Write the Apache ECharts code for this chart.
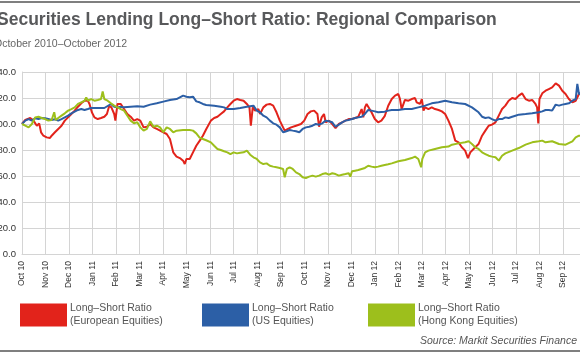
<!DOCTYPE html>
<html><head><meta charset="utf-8">
<script src="https://cdn.jsdelivr.net/npm/echarts@6/dist/echarts.min.js"></script>
<style>html,body{margin:0;padding:0;background:#fff}#c{width:580px;height:358px}</style>
</head><body><div id="c"></div>
<script>
const monthLabels = ['Oct 10','Nov 10','Dec 10','Jan 11','Feb 11','Mar 11','Apr 11','May 11','Jun 11','Jul 11','Aug 11','Sep 11',
  'Oct 11','Nov 11','Dec 11','Jan 12','Feb 12','Mar 12','Apr 12','May 12','Jun 12','Jul 12','Aug 12','Sep 12','Oct 12'];
const seriesNames = ['Long\u2013Short Ratio\n(European Equities)','Long\u2013Short Ratio\n(US Equities)','Long\u2013Short Ratio\n(Hong Kong Equities)'];
const seriesColors = ['#e2231b','#2c5fa6','#9dbf1c'];
// [month position from Oct 10, ratio]
const europe = [[0,100],[0.14,103.1],[0.35,104.6],[0.49,102.6],[0.63,98.7],[0.73,100.5],[0.81,93.6],[0.91,91.0],[1.05,89.7],[1.19,89.2],[1.26,91.0],[1.40,93.6],[1.54,96.2],[1.68,98.7],[1.82,102.6],[1.96,105.1],[2.10,107.7],[2.24,110.3],[2.38,113.3],[2.52,115.9],[2.66,117.9],[2.80,117.9],[2.87,115.4],[2.97,109.0],[3.08,105.1],[3.22,103.8],[3.36,104.6],[3.50,105.6],[3.61,107.7],[3.71,114.1],[3.80,112.8],[3.92,107.7],[3.97,102.6],[4.06,115.4],[4.20,115.4],[4.34,111.5],[4.48,107.7],[4.62,105.6],[4.76,102.6],[4.90,103.8],[5.03,102.6],[5.17,97.4],[5.31,97.9],[5.45,100],[5.59,97.4],[5.73,96.2],[5.87,94.9],[6.01,93.6],[6.15,92.3],[6.29,88.5],[6.43,78.2],[6.57,74.9],[6.71,73.8],[6.85,71.8],[6.92,69.2],[6.99,73.1],[7.13,73.1],[7.27,78.2],[7.41,83.3],[7.55,87],[7.69,91],[7.83,96],[8.03,102.6],[8.17,104.6],[8.31,105.6],[8.45,107.7],[8.59,109.7],[8.73,112.8],[8.86,115.4],[9.00,117.9],[9.14,119.2],[9.28,118.5],[9.42,117.9],[9.56,115.4],[9.67,112.8],[9.73,98.7],[9.81,112.8],[9.91,110.3],[10.05,111.5],[10.12,107.7],[10.26,112.8],[10.40,114.9],[10.54,115.4],[10.68,114.1],[10.82,109.0],[10.96,102.6],[11.10,97.4],[11.17,94.9],[11.31,96.2],[11.44,97.4],[11.65,98.7],[11.86,100],[12.00,102.6],[12.14,107.7],[12.28,109.7],[12.42,110.3],[12.56,107.7],[12.63,97.9],[12.74,105.1],[12.84,107.7],[12.91,101.3],[13.05,102.6],[13.19,100],[13.33,96.9],[13.47,100],[13.61,101.3],[13.75,102.6],[13.89,103.8],[14.03,103.8],[14.16,104.6],[14.30,105.6],[14.44,111.5],[14.51,105.1],[14.58,112.8],[14.65,115.4],[14.72,113.3],[14.86,109.0],[15.00,103.8],[15.14,101.3],[15.28,102.6],[15.42,106],[15.57,114],[15.72,119.2],[15.86,121.8],[16.00,123.1],[16.07,119.2],[16.14,111.5],[16.21,111.5],[16.28,118.5],[16.43,117.9],[16.57,119.2],[16.71,120],[16.78,116.7],[16.85,117.9],[16.92,115.4],[17.00,119.2],[17.07,110.3],[17.14,112.8],[17.28,111.5],[17.42,112.8],[17.56,111.5],[17.71,110.8],[17.85,109.7],[17.99,107.7],[18.13,102.6],[18.28,96.2],[18.42,87.2],[18.56,85.9],[18.70,82.1],[18.84,79.5],[18.96,73.8],[19.06,78.2],[19.13,76.9],[19.27,82.1],[19.41,84.6],[19.56,91.0],[19.70,94.9],[19.84,98.7],[19.98,99.5],[20.13,101.3],[20.27,106.4],[20.41,111.5],[20.55,114.1],[20.69,117.9],[20.84,120],[20.98,119.2],[21.12,121.8],[21.26,123.6],[21.41,119.2],[21.55,117.9],[21.69,118.5],[21.83,115.4],[21.90,112.8],[21.95,100.5],[22.00,119.2],[22.12,123.6],[22.26,125.6],[22.40,126.9],[22.54,128.2],[22.69,131.3],[22.83,129.5],[22.97,125.6],[23.11,123.1],[23.25,119.2],[23.40,116.7],[23.54,117.9],[23.68,123.1],[23.75,124.4],[23.9,125]];
const us = [[0,100],[0.14,102.6],[0.28,103.8],[0.42,102.6],[0.56,104.4],[0.70,103.8],[0.84,104.6],[0.98,104.4],[1.12,103.8],[1.26,103.1],[1.40,103.6],[1.54,102.6],[1.68,103.8],[1.82,105.1],[1.96,106.4],[2.10,108.2],[2.24,109.5],[2.38,110.8],[2.52,111.5],[2.66,110.8],[2.80,111.5],[2.94,112.3],[3.22,112.3],[3.50,112.3],[3.78,115.4],[3.92,113.3],[4.06,112.8],[4.20,113.3],[4.34,112.8],[4.62,113.3],[4.90,113.6],[5.17,113.3],[5.45,114.9],[5.73,115.9],[6.01,117.2],[6.29,118.5],[6.57,119.2],[6.85,121.8],[6.99,121.0],[7.13,120.5],[7.27,121.0],[7.41,117.4],[7.55,116.7],[7.69,115.4],[7.83,114.6],[8.17,114.1],[8.45,113.3],[8.59,112.8],[8.73,111.5],[9.00,111.5],[9.28,112.3],[9.56,113.3],[9.84,114.1],[9.98,110.3],[10.12,109.0],[10.26,106.4],[10.40,105.1],[10.54,102.6],[10.68,100.5],[10.82,99.5],[10.96,97.4],[11.10,93.6],[11.24,94.4],[11.38,95.4],[11.51,94.9],[11.65,94.4],[11.79,93.6],[11.93,96.2],[12.07,97.4],[12.21,97.9],[12.35,98.7],[12.49,100],[12.63,99.5],[12.77,100.5],[12.91,102.6],[13.05,102.1],[13.19,101.3],[13.33,97.9],[13.47,99.5],[13.61,101.3],[13.75,102.6],[13.89,103.1],[14.03,103.8],[14.16,104.6],[14.30,105.1],[14.44,105.6],[14.58,107.7],[14.72,110.8],[14.86,110.3],[15.00,109.7],[15.14,109.0],[15.42,109.5],[15.57,110.3],[15.72,110.8],[16.00,110.8],[16.28,111.5],[16.57,111.5],[16.85,112.8],[17.14,114.1],[17.42,115.9],[17.71,116.7],[17.99,117.9],[18.28,116.7],[18.56,115.9],[18.84,115.4],[19.13,112.8],[19.41,109.0],[19.56,105.6],[19.70,104.6],[19.84,105.1],[19.98,103.8],[20.13,102.6],[20.27,103.8],[20.41,103.8],[20.55,105.1],[20.69,104.6],[20.84,105.6],[20.98,106.4],[21.12,107.2],[21.41,107.7],[21.69,108.2],[21.97,109.0],[22.12,109.7],[22.26,110.8],[22.40,110.8],[22.54,110.3],[22.69,114.9],[22.83,114.1],[22.97,114.9],[23.11,115.4],[23.25,115.9],[23.40,117.9],[23.54,119.2],[23.61,130.8],[23.68,123.1],[23.75,123.6],[23.9,124]];
const hongKong = [[0,100],[0.14,98.7],[0.28,97.4],[0.42,100],[0.56,105.1],[0.70,105.6],[0.84,104.6],[0.98,103.8],[1.12,102.6],[1.26,103.1],[1.37,109.0],[1.43,103.1],[1.54,104.6],[1.68,106.4],[1.82,108.2],[1.96,110.3],[2.10,111.5],[2.24,112.8],[2.38,115.4],[2.52,116.7],[2.66,117.9],[2.73,120.5],[2.80,117.9],[2.94,119.2],[3.08,117.9],[3.22,118.5],[3.36,119.2],[3.43,125.1],[3.50,119.2],[3.64,117.9],[3.78,115.9],[3.92,114.1],[4.06,112.8],[4.20,111.5],[4.34,110.3],[4.48,106.4],[4.62,102.6],[4.76,100.5],[4.90,101.3],[5.03,97.4],[5.17,94.9],[5.31,96.2],[5.45,102.1],[5.59,97.9],[5.73,98.7],[5.87,97.4],[6.01,93.6],[6.15,97.4],[6.29,96.2],[6.43,93.6],[6.57,94.9],[6.85,95.4],[7.13,95.4],[7.27,94.9],[7.41,92.8],[7.55,89.5],[7.69,88.5],[7.83,87.5],[8.03,85.9],[8.17,83.3],[8.31,80.8],[8.45,80.0],[8.59,79.0],[8.73,78.2],[8.86,76.9],[9.00,78.2],[9.14,77.4],[9.28,77.9],[9.42,78.2],[9.56,79.5],[9.70,76.4],[9.84,74.4],[9.98,73.1],[10.12,70.5],[10.26,69.2],[10.40,69.7],[10.54,67.9],[10.68,67.2],[10.82,66.7],[10.96,66.2],[11.10,65.4],[11.17,59.0],[11.26,65.4],[11.38,66.7],[11.51,65.4],[11.65,62.8],[11.79,61.5],[11.93,59.0],[12.07,58.5],[12.21,59.5],[12.35,60.3],[12.49,59.5],[12.63,60.3],[12.77,61.5],[12.91,62.1],[13.05,61.0],[13.19,62.1],[13.33,61.5],[13.47,60.3],[13.61,61.0],[13.75,61.5],[13.89,62.1],[13.96,59.5],[14.03,63.6],[14.16,64.1],[14.30,64.6],[14.44,65.4],[14.58,66.2],[14.72,67.9],[14.86,67.2],[15.00,66.7],[15.14,67.2],[15.28,67.9],[15.42,68.5],[15.57,69],[15.72,69.7],[16.00,71.3],[16.28,72.3],[16.57,73.8],[16.71,74.9],[16.85,73.1],[16.97,66.7],[17.02,73.1],[17.14,78.2],[17.28,79.5],[17.56,80.8],[17.85,82.1],[18.13,82.6],[18.28,84.1],[18.56,85.1],[18.84,85.9],[18.99,86.7],[19.13,84.6],[19.27,82.1],[19.41,80.8],[19.56,78.2],[19.70,76.9],[19.84,75.6],[19.98,74.9],[20.13,74.4],[20.27,71.8],[20.41,75.6],[20.55,77.4],[20.84,79.5],[21.12,81.5],[21.41,84.1],[21.69,85.9],[21.97,86.7],[22.12,87.2],[22.26,85.9],[22.54,86.7],[22.83,84.6],[23.11,84.1],[23.40,86.7],[23.54,89.7],[23.68,91.0],[23.75,91.0],[23.9,91.2]];
const seriesData = [europe, us, hongKong];

const FONT = "'Liberation Sans', Arial, Helvetica, sans-serif";
const chart = echarts.init(document.getElementById('c'), null, {renderer: 'canvas'});
const legendLefts = [20, 202, 368];
chart.setOption({
  animation: false,
  backgroundColor: '#fff',
  textStyle: {fontFamily: FONT},
  title: [
    {text: 'Securities Lending Long\u2013Short Ratio: Regional Comparison', left: -3, top: 11, padding: 0,
      textStyle: {fontFamily: FONT, fontSize: 17.5, fontWeight: 'bold', color: '#58595b'}},
    {text: 'October 2010\u2013October 2012', left: -6, top: 39, padding: 0,
      textStyle: {fontFamily: FONT, fontSize: 10.5, fontWeight: 'normal', color: '#666'}},
    {text: 'Source: Markit Securities Finance', left: 420, top: 336, padding: 0,
      textStyle: {fontFamily: FONT, fontSize: 10.5, fontWeight: 'normal', fontStyle: 'italic', color: '#555'}}
  ],
  graphic: [
    {type: 'line', shape: {x1: 0, y1: 2, x2: 580, y2: 2}, style: {stroke: '#555', lineWidth: 1.5}},
    {type: 'line', shape: {x1: 0, y1: 351, x2: 580, y2: 351}, style: {stroke: '#555', lineWidth: 1.5}}
  ],
  legend: seriesNames.map((n, i) => ({
    data: [n], left: legendLefts[i], top: 302, padding: 0, icon: 'rect',
    itemWidth: 47, itemHeight: 23, selectedMode: false,
    textStyle: {fontFamily: FONT, fontSize: 10.5, color: '#555', lineHeight: 13, padding: [0, 0, 0, -2]}
  })),
  grid: {left: 22, top: 72, width: 564.5, height: 182, containLabel: false, outerBoundsMode: 'none'},
  xAxis: {
    type: 'value', min: 0, max: 24, interval: 1,
    axisLine: {show: true, lineStyle: {color: '#d4d4d4'}},
    axisTick: {show: false},
    splitLine: {show: true, lineStyle: {color: '#d4d4d4', width: 1}},
    axisLabel: {rotate: 90, fontSize: 8.5, color: '#333', margin: 7, fontFamily: FONT,
      formatter: v => monthLabels[Math.round(v)] || ''}
  },
  yAxis: {
    type: 'value', min: 0, max: 140, interval: 20,
    axisLine: {show: true, lineStyle: {color: '#d4d4d4'}},
    axisTick: {show: false},
    splitLine: {show: true, lineStyle: {color: '#d4d4d4', width: 1}},
    axisLabel: {fontSize: 9.5, color: '#333', margin: 6, fontFamily: FONT, formatter: v => v.toFixed(1)}
  },
  series: seriesNames.map((n, i) => ({
    name: n, type: 'line', data: seriesData[i], showSymbol: false, symbol: 'none',
    lineStyle: {color: seriesColors[i], width: 2}, itemStyle: {color: seriesColors[i]},
    clip: true
  }))
});
</script>
</body></html>
